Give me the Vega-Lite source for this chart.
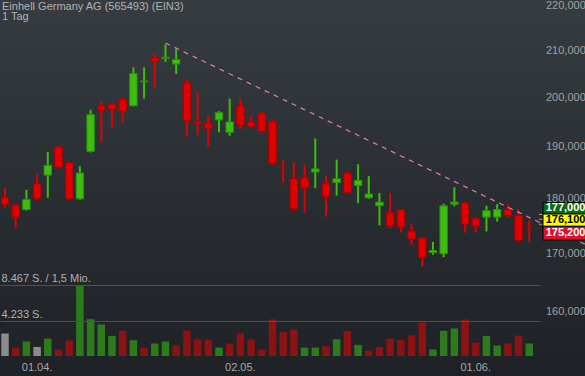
{
  "$schema": "https://vega.github.io/schema/vega-lite/v6.json",
  "width": 540,
  "height": 356,
  "autosize": "none",
  "padding": {"left": 0, "top": 0, "right": 45, "bottom": 20},
  "background": "#1f2226",
  "config": {
    "font": "Liberation Sans",
    "view": {"stroke": null},
    "locale": {"number": {"decimal": ",", "thousands": ".", "grouping": [3], "currency": ["", " €"]}},
    "axis": {"labelFont": "Liberation Sans", "labelFontSize": 11, "zindex": 1}
  },
  "title": {
    "text": ["Einhell Germany AG (565493) (EIN3)", "1 Tag"],
    "anchor": "start", "frame": "group", "orient": "top",
    "offset": -22.5, "baseline": "top", "dx": 2,
    "font": "Liberation Sans", "fontSize": 11, "fontWeight": "normal",
    "color": "#b2b2b2", "lineHeight": 10.5
  },
  "datasets": {
    "ohlc": [
      {"date": "2022-03-29", "open": 180.2, "high": 181.9, "low": 178.3, "close": 178.9, "volume": 2680, "vdir": "flat"},
      {"date": "2022-03-30", "open": 178.7, "high": 178.9, "low": 174.6, "close": 176.5, "volume": 1000, "vdir": "down"},
      {"date": "2022-03-31", "open": 177.9, "high": 181.6, "low": 177.7, "close": 179.8, "volume": 1730, "vdir": "up"},
      {"date": "2022-04-01", "open": 182.8, "high": 184.5, "low": 179.6, "close": 179.9, "volume": 1080, "vdir": "flat"},
      {"date": "2022-04-04", "open": 184.4, "high": 188.9, "low": 180.1, "close": 186.3, "volume": 2080, "vdir": "up"},
      {"date": "2022-04-05", "open": 189.9, "high": 190.1, "low": 185.7, "close": 185.9, "volume": 770, "vdir": "down"},
      {"date": "2022-04-06", "open": 186.8, "high": 187.0, "low": 179.7, "close": 179.9, "volume": 1880, "vdir": "down"},
      {"date": "2022-04-07", "open": 179.9, "high": 186.1, "low": 179.7, "close": 184.8, "volume": 8467, "vdir": "up"},
      {"date": "2022-04-08", "open": 189.0, "high": 197.4, "low": 188.8, "close": 196.4, "volume": 4400, "vdir": "up"},
      {"date": "2022-04-11", "open": 198.2, "high": 199.0, "low": 190.8, "close": 197.3, "volume": 3760, "vdir": "up"},
      {"date": "2022-04-12", "open": 198.6, "high": 198.8, "low": 193.8, "close": 197.4, "volume": 2400, "vdir": "up"},
      {"date": "2022-04-13", "open": 199.6, "high": 199.8, "low": 194.9, "close": 197.1, "volume": 3000, "vdir": "down"},
      {"date": "2022-04-14", "open": 198.2, "high": 206.3, "low": 198.1, "close": 205.0, "volume": 1880, "vdir": "up"},
      {"date": "2022-04-19", "open": 203.2, "high": 206.3, "low": 199.7, "close": 203.4, "volume": 1000, "vdir": "down"},
      {"date": "2022-04-20", "open": 208.4, "high": 209.2, "low": 201.9, "close": 207.6, "volume": 1490, "vdir": "up"},
      {"date": "2022-04-21", "open": 208.2, "high": 211.3, "low": 207.5, "close": 208.5, "volume": 1730, "vdir": "up"},
      {"date": "2022-04-22", "open": 207.0, "high": 210.2, "low": 204.9, "close": 208.0, "volume": 1280, "vdir": "down"},
      {"date": "2022-04-25", "open": 203.0, "high": 203.6, "low": 192.0, "close": 195.1, "volume": 3040, "vdir": "down"},
      {"date": "2022-04-26", "open": 195.0, "high": 201.1, "low": 192.2, "close": 194.6, "volume": 1960, "vdir": "down"},
      {"date": "2022-04-27", "open": 194.7, "high": 196.2, "low": 190.0, "close": 193.6, "volume": 1960, "vdir": "down"},
      {"date": "2022-04-28", "open": 195.3, "high": 197.1, "low": 192.8, "close": 196.8, "volume": 1000, "vdir": "up"},
      {"date": "2022-04-29", "open": 192.8, "high": 199.7, "low": 192.1, "close": 194.9, "volume": 1490, "vdir": "down"},
      {"date": "2022-05-02", "open": 198.2, "high": 199.7, "low": 193.5, "close": 194.3, "volume": 2680, "vdir": "down"},
      {"date": "2022-05-03", "open": 194.9, "high": 196.2, "low": 193.9, "close": 194.0, "volume": 1960, "vdir": "down"},
      {"date": "2022-05-04", "open": 196.6, "high": 197.1, "low": 192.8, "close": 193.0, "volume": 770, "vdir": "down"},
      {"date": "2022-05-05", "open": 195.0, "high": 195.4, "low": 186.4, "close": 186.6, "volume": 4360, "vdir": "down"},
      {"date": "2022-05-06", "open": 185.9, "high": 187.4, "low": 183.0, "close": 185.8, "volume": 2840, "vdir": "down"},
      {"date": "2022-05-09", "open": 183.7, "high": 186.8, "low": 177.7, "close": 178.0, "volume": 3160, "vdir": "down"},
      {"date": "2022-05-10", "open": 183.9, "high": 186.4, "low": 177.3, "close": 181.9, "volume": 1000, "vdir": "up"},
      {"date": "2022-05-11", "open": 185.0, "high": 191.6, "low": 181.9, "close": 185.6, "volume": 1000, "vdir": "up"},
      {"date": "2022-05-12", "open": 182.9, "high": 184.3, "low": 176.6, "close": 180.3, "volume": 1160, "vdir": "down"},
      {"date": "2022-05-13", "open": 183.0, "high": 187.4, "low": 180.5, "close": 183.7, "volume": 2000, "vdir": "up"},
      {"date": "2022-05-16", "open": 184.8, "high": 185.1, "low": 181.0, "close": 181.1, "volume": 3000, "vdir": "down"},
      {"date": "2022-05-17", "open": 182.4, "high": 186.5, "low": 179.1, "close": 183.4, "volume": 1320, "vdir": "up"},
      {"date": "2022-05-18", "open": 180.1, "high": 184.2, "low": 179.9, "close": 180.8, "volume": 650, "vdir": "down"},
      {"date": "2022-05-19", "open": 178.6, "high": 181.0, "low": 175.0, "close": 179.3, "volume": 1080, "vdir": "down"},
      {"date": "2022-05-20", "open": 177.3, "high": 181.0, "low": 174.5, "close": 174.9, "volume": 2080, "vdir": "down"},
      {"date": "2022-05-23", "open": 177.9, "high": 178.0, "low": 173.7, "close": 174.7, "volume": 1920, "vdir": "down"},
      {"date": "2022-05-24", "open": 174.0, "high": 175.3, "low": 171.5, "close": 172.5, "volume": 2480, "vdir": "down"},
      {"date": "2022-05-25", "open": 172.7, "high": 172.9, "low": 167.7, "close": 169.3, "volume": 4000, "vdir": "down"},
      {"date": "2022-05-26", "open": 170.1, "high": 172.0, "low": 169.7, "close": 170.5, "volume": 770, "vdir": "up"},
      {"date": "2022-05-27", "open": 169.9, "high": 179.0, "low": 169.3, "close": 178.6, "volume": 3000, "vdir": "up"},
      {"date": "2022-05-30", "open": 178.9, "high": 182.1, "low": 178.5, "close": 179.3, "volume": 3280, "vdir": "up"},
      {"date": "2022-05-31", "open": 179.1, "high": 179.3, "low": 173.7, "close": 175.2, "volume": 4360, "vdir": "down"},
      {"date": "2022-06-01", "open": 176.3, "high": 176.5, "low": 173.7, "close": 174.9, "volume": 1600, "vdir": "down"},
      {"date": "2022-06-02", "open": 176.5, "high": 178.6, "low": 173.9, "close": 177.7, "volume": 2400, "vdir": "up"},
      {"date": "2022-06-03", "open": 176.5, "high": 178.9, "low": 175.7, "close": 177.9, "volume": 1250, "vdir": "up"},
      {"date": "2022-06-06", "open": 177.9, "high": 178.9, "low": 176.5, "close": 176.8, "volume": 1490, "vdir": "down"},
      {"date": "2022-06-07", "open": 176.8, "high": 178.0, "low": 172.1, "close": 172.3, "volume": 2440, "vdir": "down"},
      {"date": "2022-06-08", "open": 174.8, "high": 175.9, "low": 172.0, "close": 174.7, "volume": 1490, "vdir": "up"}
    ],
    "trend": [
      {"day": 15, "price": 211.6},
      {"day": 54.2, "price": 171.6}
    ],
    "quote": [
      {"type": "ask", "price": 177.0},
      {"type": "mid", "price": 176.1},
      {"type": "last", "price": 175.2}
    ]
  },
  "layer": [
    {
      "data": {"values": [{"bg": 1}]},
      "mark": {"type": "rect", "fill": {"gradient": "linear", "x1": 0, "y1": 0, "x2": 0, "y2": 1, "stops": [{"offset": 0, "color": "#363c40"}, {"offset": 1, "color": "#1e2125"}]}},
      "encoding": {
        "x": {"value": 0},
        "x2": {"value": {"expr": "width + 45"}},
        "y": {"value": 0},
        "y2": {"value": {"expr": "height + 20"}}
      }
    },
    {
      "data": {"name": "ohlc"},
      "mark": {"type": "bar"},
      "encoding": {
        "x": {
          "field": "date", "type": "ordinal",
          "scale": {"type": "band", "paddingInner": 0.3, "paddingOuter": 0.386, "align": 0.152},
          "axis": {
            "values": ["2022-04-01", "2022-05-02", "2022-06-01"],
            "labelExpr": "slice(datum.value, 8, 10) + '.' + slice(datum.value, 5, 7) + '.'",
            "title": null, "domain": false, "ticks": false, "grid": false, "zindex": 1,
            "labelAngle": 0, "labelColor": "#a8a8a8", "labelFontSize": 11, "labelPadding": 5
          }
        },
        "y": {
          "field": "volume", "type": "quantitative",
          "scale": {"domain": [0, 42454], "nice": false, "zero": true},
          "axis": {
            "orient": "left", "values": [4233, 8467], "title": null,
            "grid": true, "gridColor": "#4b5155", "gridWidth": 1, "zindex": 1,
            "domain": false, "ticks": false,
            "labelAlign": "left", "labelPadding": -1, "labelBaseline": "bottom", "labelOffset": -1,
            "labelColor": "#b0b0b0", "labelFontSize": 11,
            "labelExpr": "datum.value > 6000 ? format(datum.value, ',d') + ' S. / 1,5 Mio.' : format(datum.value, ',d') + ' S.'"
          }
        },
        "color": {
          "field": "vdir", "type": "nominal",
          "scale": {"domain": ["up", "down", "flat"], "range": ["#2e7b1c", "#8b1313", "#8c8c8c"]},
          "legend": null
        }
      }
    },
    {
      "data": {"name": "ohlc"},
      "mark": {"type": "rule", "strokeWidth": 2},
      "encoding": {
        "x": {"field": "date", "type": "ordinal", "scale": {"type": "band", "paddingInner": 0.3, "paddingOuter": 0.386, "align": 0.152}, "axis": null},
        "y": {
          "field": "low", "type": "quantitative",
          "scale": {"type": "log", "domain": [152.73, 221.3], "nice": false, "zero": false},
          "axis": {
            "orient": "right", "values": [160, 170, 180, 190, 200, 210, 220], "format": ".3f",
            "title": null, "domain": false, "ticks": false, "grid": false, "zindex": 1,
            "labelColor": "#a0a0a0", "labelFontSize": 11, "labelPadding": 5.5,
            "labelOverlap": false, "labelFlush": false
          }
        },
        "y2": {"field": "high"},
        "color": {"condition": {"test": "datum.close > datum.open", "value": "#3dbd10"}, "value": "#e00000"}
      }
    },
    {
      "data": {"name": "ohlc"},
      "mark": {"type": "bar", "strokeWidth": 1},
      "encoding": {
        "x": {"field": "date", "type": "ordinal", "scale": {"type": "band", "paddingInner": 0.3, "paddingOuter": 0.386, "align": 0.152}, "axis": null},
        "y": {"field": "open", "type": "quantitative", "scale": {"type": "log", "domain": [152.73, 221.3], "nice": false, "zero": false}, "axis": null},
        "y2": {"field": "close"},
        "fill": {"condition": {"test": "datum.close > datum.open", "value": "#3dbd10"}, "value": "#e00000"},
        "stroke": {"condition": {"test": "datum.close > datum.open", "value": "#2a8c0a"}, "value": "#a80000"}
      }
    },
    {
      "data": {"name": "trend"},
      "mark": {"type": "line", "strokeDash": [5, 5], "strokeWidth": 1.2, "color": "#e27cb6", "clip": false},
      "encoding": {
        "x": {"field": "day", "type": "quantitative", "scale": {"domain": [-0.467, 50.0], "nice": false, "zero": false}, "axis": null},
        "y": {"field": "price", "type": "quantitative", "scale": {"type": "log", "domain": [152.73, 221.3], "nice": false, "zero": false}, "axis": null}
      }
    },
    {
      "data": {"name": "quote"},
      "mark": {"type": "rule", "strokeWidth": 1, "color": "#9a9a9a"},
      "encoding": {
        "x": {"value": {"expr": "width - 1"}},
        "x2": {"value": {"expr": "width + 3"}},
        "y": {"field": "price", "type": "quantitative", "scale": {"type": "log", "domain": [152.73, 221.3], "nice": false, "zero": false}, "axis": null}
      }
    },
    {
      "data": {"name": "quote"},
      "transform": [{"filter": "datum.type == 'ask'"}],
      "mark": {"type": "rect", "fill": "#0b6a13", "stroke": "#000000", "strokeWidth": 1, "yOffset": -12.1, "y2Offset": -0.4},
      "encoding": {
        "x": {"value": {"expr": "width + 3"}},
        "x2": {"value": {"expr": "width + 50"}},
        "y": {"field": "price", "type": "quantitative", "scale": {"type": "log", "domain": [152.73, 221.3], "nice": false, "zero": false}, "axis": null},
        "y2": {"field": "price"}
      }
    },
    {
      "data": {"name": "quote"},
      "transform": [{"filter": "datum.type == 'mid'"}],
      "mark": {"type": "rect", "fill": "#ffff00", "stroke": "#000000", "strokeWidth": 1, "yOffset": -5.3, "y2Offset": 7.0},
      "encoding": {
        "x": {"value": {"expr": "width + 3"}},
        "x2": {"value": {"expr": "width + 50"}},
        "y": {"field": "price", "type": "quantitative", "scale": {"type": "log", "domain": [152.73, 221.3], "nice": false, "zero": false}, "axis": null},
        "y2": {"field": "price"}
      }
    },
    {
      "data": {"name": "quote"},
      "transform": [{"filter": "datum.type == 'last'"}],
      "mark": {"type": "rect", "fill": "#e0102a", "stroke": "#000000", "strokeWidth": 1, "yOffset": 2.1, "y2Offset": 15.8},
      "encoding": {
        "x": {"value": {"expr": "width + 3"}},
        "x2": {"value": {"expr": "width + 50"}},
        "y": {"field": "price", "type": "quantitative", "scale": {"type": "log", "domain": [152.73, 221.3], "nice": false, "zero": false}, "axis": null},
        "y2": {"field": "price"}
      }
    },
    {
      "data": {"name": "quote"},
      "transform": [{"filter": "datum.type == 'ask'"}],
      "mark": {"type": "text", "align": "left", "baseline": "middle", "fontSize": 11, "fontWeight": "bold", "color": "#ffffff", "yOffset": -6.2},
      "encoding": {
        "x": {"value": {"expr": "width + 5.7"}},
        "y": {"field": "price", "type": "quantitative", "scale": {"type": "log", "domain": [152.73, 221.3], "nice": false, "zero": false}, "axis": null},
        "text": {"field": "price", "type": "quantitative", "format": ".3f"}
      }
    },
    {
      "data": {"name": "quote"},
      "transform": [{"filter": "datum.type == 'mid'"}],
      "mark": {"type": "text", "align": "left", "baseline": "middle", "fontSize": 11, "fontWeight": "bold", "color": "#000000", "yOffset": 0.9},
      "encoding": {
        "x": {"value": {"expr": "width + 5.7"}},
        "y": {"field": "price", "type": "quantitative", "scale": {"type": "log", "domain": [152.73, 221.3], "nice": false, "zero": false}, "axis": null},
        "text": {"field": "price", "type": "quantitative", "format": ".3f"}
      }
    },
    {
      "data": {"name": "quote"},
      "transform": [{"filter": "datum.type == 'last'"}],
      "mark": {"type": "text", "align": "left", "baseline": "middle", "fontSize": 11, "fontWeight": "bold", "color": "#ffffff", "yOffset": 9.0},
      "encoding": {
        "x": {"value": {"expr": "width + 5.7"}},
        "y": {"field": "price", "type": "quantitative", "scale": {"type": "log", "domain": [152.73, 221.3], "nice": false, "zero": false}, "axis": null},
        "text": {"field": "price", "type": "quantitative", "format": ".3f"}
      }
    }
  ],
  "resolve": {"scale": {"y": "independent", "x": "independent"}}
}
